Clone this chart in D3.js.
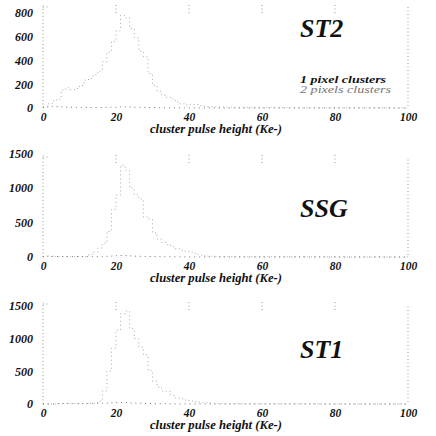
<!DOCTYPE html>
<html lang="en">
<head>
<meta charset="UTF-8">
<title>cluster pulse height</title>
<script src="https://cdnjs.cloudflare.com/ajax/libs/d3/7.8.5/d3.min.js"></script>
<style>
  body { margin: 0; background: #fff; }
  svg text { font-family: 'Liberation Serif', 'Times New Roman', 'DejaVu Serif', serif !important; font-style: italic; font-weight: bold; }
  .hist { fill: none; stroke-width: 1; }
  .dots { fill: none; stroke: #999; stroke-width: 1; stroke-dasharray: 1,2.5; }
</style>
</head>
<body>
<div id="chart"></div>
<script>
// bin lower edges (Ke-): 1.25 wide up to 50, then 2.5 wide
const binEdges = d3.range(0, 50, 1.25).concat(d3.range(50, 100.01, 2.5));

const xTicks = [0, 20, 40, 60, 80, 100];

// 2 pixels clusters (counts per bin)
const st2Two = [10,35,60,75,150,170,155,165,190,235,250,280,310,390,470,560,650,780,760,670,
                590,480,430,290,190,140,110,90,75,50,35,25,30,30,20,15,12,10,8,8,
                6,6,5,5,4,5,4,3,3,3,2,3,2,2,2,2,1,2,1,1];
const ssgTwo = [4,6,5,8,6,5,10,8,6,10,40,70,130,200,370,690,900,1330,1260,1000,
                900,840,580,550,350,260,210,180,150,120,100,85,70,55,30,18,12,10,8,8,
                7,6,6,5,5,4,4,3,3,3,2,2,3,2,2,1,2,1,1,1];
const st1Two = [0,0,3,6,8,8,10,8,10,10,12,15,45,200,505,857,1130,1380,1420,1150,
                1000,870,750,510,350,260,200,190,130,92,80,60,45,35,25,20,15,12,10,8,
                7,6,6,5,5,4,4,3,3,3,2,2,2,2,1,2,1,1,1,1];

// 1 pixel clusters (counts per bin)
const st2One = [4,10,14,12,10,8,6,6,5,5,4,4,4,5,6,6,8,10,9,8,
                6,5,5,4,3,3,2,2,2,2,1,1,1,1,1,1,1,0,0,0,
                0,0,0,0,0,0,0,0,0,0,0,0,0,0,0,0,0,0,0,0];
const ssgOne = [6,14,10,8,8,7,6,6,5,5,5,5,6,8,10,14,18,22,20,16,
                12,10,8,7,6,5,4,4,3,3,2,2,2,1,1,1,1,1,0,0,
                0,0,0,0,0,0,0,0,0,0,0,0,0,0,0,0,0,0,0,0];
const st1One = [0,0,0,4,8,7,6,6,5,5,5,6,8,10,14,18,22,24,22,18,
                14,12,10,8,6,5,4,3,3,2,2,2,1,1,1,1,1,0,0,0,
                0,0,0,0,0,0,0,0,0,0,0,0,0,0,0,0,0,0,0,0];

const panels = [
  { name: "ST2", two: st2Two, one: st2One, base: 108, top: 5,   max: 867,  yTicks: [0,200,400,600,800], nameY: 37, legend: true },
  { name: "SSG", two: ssgTwo, one: ssgOne, base: 257, top: 155, max: 1480, yTicks: [0,500,1000,1500],   nameY: 217 },
  { name: "ST1", two: st1Two, one: st1One, base: 404, top: 302, max: 1560, yTicks: [0,500,1000,1500],   nameY: 358 }
];

const W = 436, H = 436;
const FONT = "'Liberation Serif', 'Times New Roman', serif";
const svg = d3.select("#chart").append("svg")
  .attr("width", W).attr("height", H)
  .style("background", "#fff");

const x = d3.scaleLinear().domain([0, 100]).range([43, 408]);

panels.forEach(p => {
  const y = d3.scaleLinear().domain([0, p.max]).range([p.base, p.top]);
  const g = svg.append("g");

  // dotted frame pieces: left axis, right edge, top ticks
  g.append("line").attr("class", "dots")
    .attr("x1", x(0)).attr("x2", x(0)).attr("y1", p.base).attr("y2", p.top);
  g.append("line").attr("class", "dots")
    .attr("x1", x(100)).attr("x2", x(100)).attr("y1", p.base - 2).attr("y2", p.top + 2);
  g.append("line").attr("class", "dots")
    .attr("x1", x(0)).attr("x2", x(0) + 6).attr("y1", p.top + 2).attr("y2", p.top + 2);
  xTicks.slice(1, 5).forEach(t => {
    g.append("line").attr("class", "dots")
      .attr("x1", x(t)).attr("x2", x(t)).attr("y1", p.top).attr("y2", p.top + 9);
  });

  // histograms as dotted steps
  const pts = arr => arr.map((v, i) => [binEdges[i], v]).concat([[binEdges[binEdges.length - 1], 0]]);
  const line = d3.line().curve(d3.curveStepAfter).x(d => x(d[0])).y(d => y(d[1]));

  g.append("path").attr("class", "hist")
    .attr("d", line(pts(p.two)))
    .attr("stroke", "#aaa").attr("stroke-dasharray", "1,3");
  g.append("path").attr("class", "hist")
    .attr("d", line(pts(p.one)))
    .attr("stroke", "#777").attr("stroke-dasharray", "1,4");

  // y axis labels
  const ya = g.append("g").attr("transform", `translate(${x(0)},0)`)
    .call(d3.axisLeft(y).tickValues(p.yTicks).tickSize(0).tickPadding(10).tickFormat(d3.format("d")));
  ya.select(".domain").remove();
  ya.attr("font-family", FONT);
  ya.selectAll("text").attr("font-size", 12).attr("fill", "#111");

  // x axis labels
  const xa = g.append("g").attr("transform", `translate(0,${p.base})`)
    .call(d3.axisBottom(x).tickValues(xTicks).tickSize(0).tickPadding(5).tickFormat(d3.format("d")));
  xa.select(".domain").remove();
  xa.attr("font-family", FONT);
  xa.selectAll("text").attr("font-size", 11.5).attr("fill", "#111");

  g.append("text")
    .attr("x", 150).attr("y", p.base + 25)
    .attr("font-family", FONT)
    .attr("font-size", 11.5).attr("fill", "#111")
    .attr("textLength", 132).attr("lengthAdjust", "spacingAndGlyphs")
    .text("cluster pulse height (Ke-)");

  g.append("text")
    .attr("x", 300).attr("y", p.nameY)
    .attr("font-family", FONT)
    .attr("font-size", 26).attr("fill", "#111")
    .text(p.name);

  if (p.legend) {
    g.append("text").attr("x", 300).attr("y", 83)
      .attr("font-family", FONT)
      .attr("font-size", 10).attr("fill", "#111")
      .attr("textLength", 86).attr("lengthAdjust", "spacingAndGlyphs")
      .text("1 pixel clusters");
    g.append("text").attr("x", 300).attr("y", 92.5)
      .attr("font-family", FONT)
      .attr("font-size", 10).attr("fill", "#777")
      .attr("textLength", 91).attr("lengthAdjust", "spacingAndGlyphs")
      .style("font-weight", "normal")
      .text("2 pixels clusters");
  }
});
</script>
</body>
</html>
